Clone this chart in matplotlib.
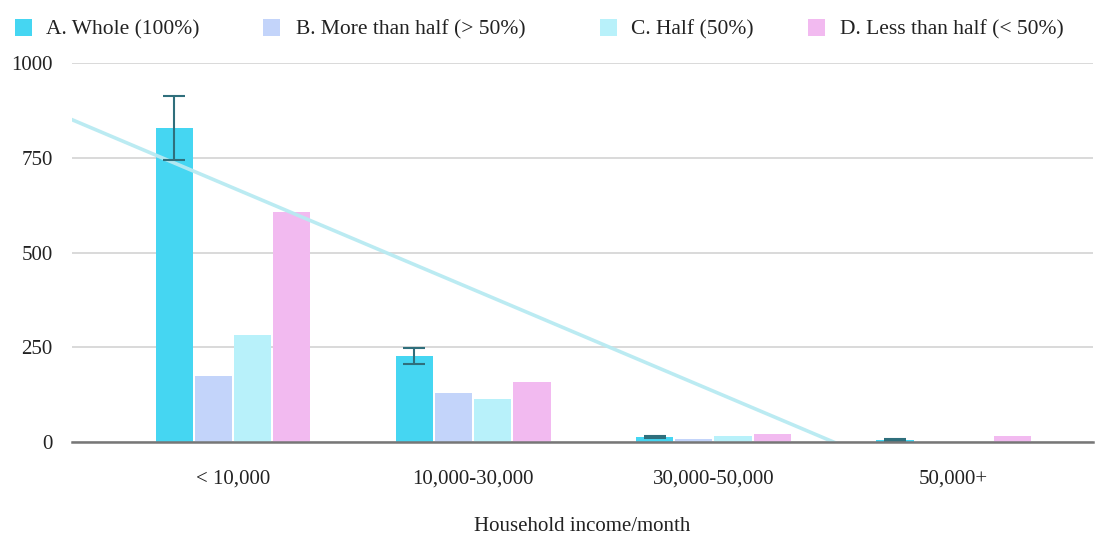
import matplotlib
matplotlib.use("Agg")
import matplotlib.pyplot as plt
import numpy as np
from matplotlib.patches import Rectangle

categories = ["< 10,000", "10,000-30,000", "30,000-50,000", "50,000+"]
series_names = ["A. Whole (100%)", "B. More than half (> 50%)", "C. Half (50%)", "D. Less than half (< 50%)"]
whole = [828, 227, 13, 5]
more_half = [174, 130, 8, 0]
half = [282, 113, 15, 0]
less_half = [607, 159, 20, 15]
whole_err = [84, 22, 3, 2]
colors = ["#45D6F2", "#C3D4FA", "#B8F1FA", "#F2BAF0"]
yticks = [0, 250, 500, 750, 1000]
xlabel = "Household income/month"

plt.rcParams['font.family'] = ['Liberation Serif', 'DejaVu Serif']

W, H = 1104, 536
fig = plt.figure(figsize=(W / 100, H / 100), dpi=100)
ax = fig.add_axes([72 / W, 1 - 442 / H, (1093 - 72) / W, (442 - 63) / H])

x = np.arange(len(categories))
bw = 0.155
offsets = np.array([-1.5, -0.5, 0.5, 1.5]) * (bw + 0.008)
all_series = [whole, more_half, half, less_half]
for i, (vals, c) in enumerate(zip(all_series, colors)):
    ax.bar(x + offsets[i], vals, width=bw, color=c, zorder=3)

ax.errorbar(x + offsets[0], whole, yerr=whole_err, fmt='none', ecolor="#2F6F7C",
            elinewidth=1.5, capsize=8, capthick=1.5, zorder=5)

# linear trendline of series A
coef = np.polyfit(x, whole, 1)
xl = np.array([-0.67, 3.58])
ax.plot(xl, np.polyval(coef, xl), color="#B8EAF2", lw=2.6, zorder=4, alpha=0.95)

fs = 15
ax.set_xlim(-0.67, 3.58)
ax.set_ylim(0, 1000)
ax.set_yticks(yticks)
ax.set_yticklabels([str(t) for t in yticks], fontsize=fs, color="#222222")
ax.set_xticks(x)
ax.set_xticklabels(categories, fontsize=fs, color="#222222")
ax.tick_params(axis='y', length=0, pad=14)
ax.tick_params(axis='x', length=0, pad=19.5)
ax.grid(axis='y', color="#D3D3D3", lw=1.2, zorder=0)
for s in ["top", "right", "left"]:
    ax.spines[s].set_visible(False)
ax.spines["bottom"].set_color("#777777")
ax.spines["bottom"].set_linewidth(1.8)
ax.spines["bottom"].set_zorder(6)
ax.set_xlabel(xlabel, fontsize=fs, color="#222222", labelpad=20.5)

# legend
mx = [15, 263, 600, 808]
tx = [46, 296, 631, 840]
for m, t, c, n in zip(mx, tx, colors, series_names):
    fig.patches.append(Rectangle((m / W, 1 - 36 / H), 17 / W, 17 / H, transform=fig.transFigure,
                                 facecolor=c, edgecolor='none'))
    fig.text(t / W, 1 - 29.5 / H, n, fontsize=15.5, va='center', ha='left', color="#222222")

fig.savefig("out.png", dpi=100, facecolor="white")
